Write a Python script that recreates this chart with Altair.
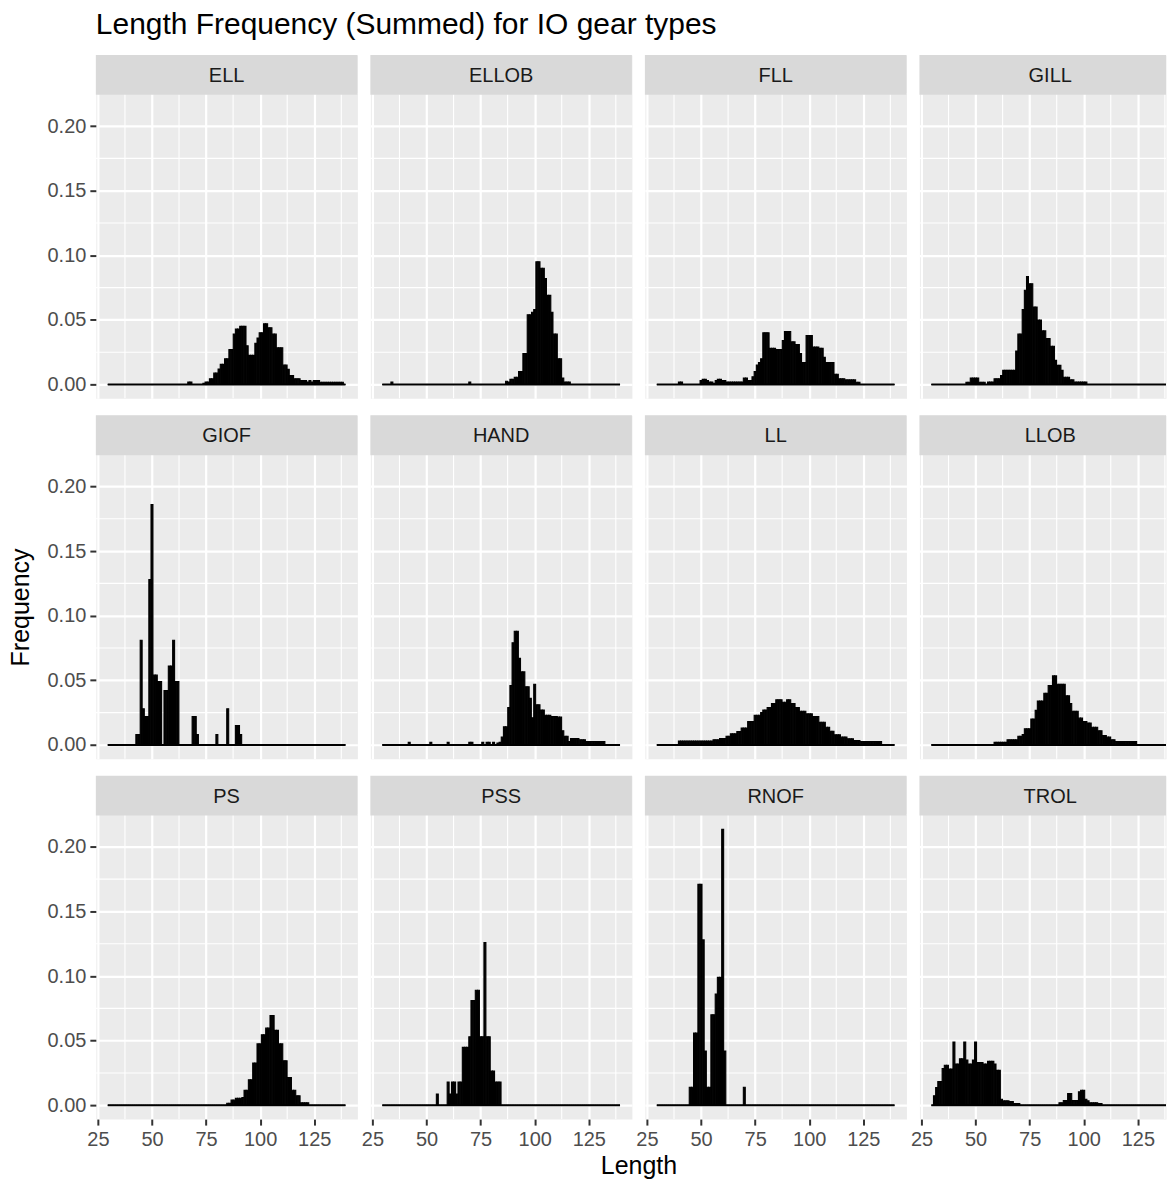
import altair as alt
import pandas as pd

TITLE = "Length Frequency (Summed) for IO gear types"
X_TITLE = "Length"
Y_TITLE = "Frequency"
GEARS = ["ELL", "ELLOB", "FLL", "GILL", "GIOF", "HAND", "LL", "LLOB",
         "PS", "PSS", "RNOF", "TROL"]
BIN_MIN, BIN_MAX = 30, 139
X_TICKS = [25, 50, 75, 100, 125]
X_MINOR = [37.5, 62.5, 87.5, 112.5, 137.5]
Y_TICKS = [0.0, 0.05, 0.10, 0.15, 0.20]
Y_MINOR = [0.025, 0.075, 0.125, 0.175, 0.225]

# (first length, [frequency per 1-cm length class ...])
ELL = [(66, [0, .002, .002, 0, 0, 0, 0, 0, .001, .002,
             .002, .0044, .0044, .0088, .0088, .012, .0156, .0156, .020, .020,
             .027, .027, .039, .043, .043, .045, .045, .045, .030, .0226,
             .0226, .0226, .032, .036, .040, .040, .047, .047, .044, .044,
             .039, .039, .0285, .0285, .0285, .015, .015, .0117, .007, .007,
             .0044, .0044, .0044, .003, .003, .003, .002, .003, .002, .003,
             .003, .003, .0018, .0018, .0018, .0018, .0018, .0018, .0018, .0018,
             .0018, .0018, .0018])]
ELLOB = [(34, [.002]), (70, [.002]),
         (87, [.0026, .002, .004, .004, .0057, .0057, .010, .010, .024, .024,
               .054, .054, .056, .058, .095, .095, .090, .090, .082, .069,
               .069, .056, .039, .039, .020, .020, .005, .002, .002, .002])]
FLL = [(40, [.002, .002]),
       (50, [.003, .004, .004, .003, .002, .002, .001, .003, .004, .004,
             .003, .003, .002, .002, .002, .002, .002, .002, .002, .002,
             .005, .005, .003, .003, .006, .010, .015, .017, .020, .040,
             .040, .040, .028, .028, .028, .027, .027, .027, .034, .041,
             .041, .041, .033, .033, .031, .031, .024, .017, .017, .038,
             .038, .038, .029, .029, .029, .028, .028, .021, .017, .017,
             .017, .017, .008, .008, .0045, .0045, .0045, .0036, .0036, .0036,
             .0036, .0036, .0018, .0018])]
GILL = [(46, [.0018, .0018, .005, .005, .005, .005, .0018, .0018, .0018, 0,
              .002, .002, .002, .0044, .0044, .0044, .007, .011, .011, .011,
              .011, .011, .011, .026, .039, .039, .058, .073, .0835, .078,
              .078, .060, .060, .050, .050, .0415, .0415, .0355, .0355, .0296,
              .0296, .0187, .0148, .0148, .011, .0057, .0057, .0057, .0036, .0036,
              .002, .002, .002, .002, .002, .002])]
GIOF = [(43, [.008, .008, .081, .028, .022, .022, .128, .186, .054, .054,
              .049, .049, 0, .042, .042, .061, .061, .081, .049, .049]),
        (69, [.022, .022, .008]), (80, [.008]), (85, [.028]),
        (89, [.015, .015, .008])]
HAND = [(42, [.002]), (52, [.002]), (60, [.002]), (70, [.002, .002]),
        (76, [.002, 0, .002, .002, 0, .002, 0, .0015, .002, .006,
              .014, .014, .029, .046, .079, .088, .088, .067, .0565, .0565,
              .045, .045, .036, .021, .047, .031, .031, .027, .027, .023,
              .023, .023, .022, .022, .022, .0215, .0215, .011, .0067, .0067,
              .0026, .005, .005, .005, .005, .004, .004, .004, .0026, .0026,
              .0026, .0026, .0026, .0026, .0026, .0026, .0026])]
LL = [(40, [.003, .003, .003, .003, .003, .003, .003, .003, .003, .003,
            .003, .003, .003, .003, .003, .003, .004, .004, .004, .005,
            .005, .005, .0067, .0067, .0086, .0086, .0086, .0104, .0104, .013,
            .013, .013, .018, .018, .018, .023, .023, .023, .025, .027,
            .027, .029, .029, .032, .032, .035, .035, .035, .033, .033,
            .035, .035, .032, .032, .029, .029, .026, .026, .026, .024,
            .024, .024, .022, .022, .022, .0176, .0176, .0176, .0137, .0137,
            .0106, .0106, .0078, .0078, .0078, .006, .006, .006, .0047, .0047,
            .0047, .0034, .0034, .0034, .0026, .0026, .0026, .0026, .0026, .0026,
            .0026, .0026, .0026, .0026])]
LLOB = [(59, [.002, .002, .002, .002, .002, .002, .004, .004, .004, .004,
              .004, .0067, .0067, .008, .0125, .0125, .0125, .020, .020, .0267,
              .034, .034, .034, .040, .040, .046, .046, .0534, .0534, .047,
              .047, .047, .047, .038, .038, .032, .026, .026, .026, .0207,
              .0207, .018, .018, .0169, .0169, .0137, .0137, .0137, .011, .011,
              .0073, .0073, .006, .006, .004, .004, .0026, .0026, .0026, .0026,
              .0026, .0026, .0026, .0026, .0026, .0026])]
PS = [(85, [.0016, .0016, .004, .004, .0054, .0054, .0054, .006, .0117, .0117,
            .0197, .0197, .0327, .0327, .0475, .0475, .0545, .0545, .0597, .0597,
            .0695, .0695, .058, .058, .0475, .0475, .0345, .0345, .0215, .0215,
            .0117, .0117, .0073, .0073, .002, .002, .002, .002])]
PSS = [(55, [.0087]),
       (60, [.018, .0087, .018, .018, .0087, .018, .018, .0448, .0448, .0448,
             .053, .081, .081, .089, .089, .053, .053, .126, .053, .053,
             .0266, .0266, .018, .018, .018])]
RNOF = [(45, [.014, .014, .056, .056, .171, .171, .128, .042, .014, .014,
              .070, .070, .086, .099, .099, .2135, .042]),
        (70, [.014])]
TROL = [(31, [.0073, .0137, .0184, .0184, .0285, .031, .031, .028, .028, .049,
              .032, .032, .036, .036, .049, .035, .032, .032, .035, .049,
              .033, .033, .033, .032, .032, .034, .034, .034, .032, .027,
              .027, .0047, .0034, .0034, .0034, .0029, .0029, .0013, .0013, .0013]),
        (89, [.002, .002, .0036, .0036, .009, .009, .0036, .0036, .0036, .0104,
              .0117, .0117, .0047, .0034, .002, .002, .002, .002, .0013, .0013])]

SEGMENTS = {"ELL": ELL, "ELLOB": ELLOB, "FLL": FLL, "GILL": GILL,
            "GIOF": GIOF, "HAND": HAND, "LL": LL, "LLOB": LLOB,
            "PS": PS, "PSS": PSS, "RNOF": RNOF, "TROL": TROL}

rows = []
for g in GEARS:
    freq = {L: 0.0 for L in range(BIN_MIN, BIN_MAX + 1)}
    for start, vals in SEGMENTS[g]:
        for i, v in enumerate(vals):
            freq[start + i] = v
    for L, v in freq.items():
        rows.append({"gear": g, "x0": L - 0.45, "x1": L + 0.45,
                     "freq": v, "base": 0.0})
df = pd.DataFrame(rows)

FONT = "Liberation Sans"
PANEL_W, PLOT_H, STRIP_H = 262, 304, 40
LAST_W = 247          # right-hand column is cut by the page edge, as in the original
COL_GAP, ROW_GAP = 13, 13

ymax = df["freq"].max()
Y_LO = -0.05 * ymax
PLOT_TOP = 1.05 * ymax
Y_TOP = PLOT_TOP + STRIP_H * (PLOT_TOP - Y_LO) / PLOT_H
xlo, xhi = df["x0"].min(), df["x1"].max()
span = xhi - xlo
X_DOM = [xlo - 0.05 * span, xhi + 0.05 * span]
X_DOM_LAST = [X_DOM[0], X_DOM[0] + LAST_W * (X_DOM[1] - X_DOM[0]) / PANEL_W]

ys = alt.Scale(domain=[Y_LO, Y_TOP], nice=False, zero=False)

minor_x_df = pd.DataFrame({"v": X_MINOR})
minor_y_df = pd.DataFrame({"v": Y_MINOR})

GRID_W = 4 * PANEL_W + 3 * COL_GAP
PANEL_H = PLOT_H + STRIP_H
ROW_PITCH = PANEL_H + ROW_GAP + 3.5


def panel(g, r, c):
    d = df[df["gear"] == g]
    left = c == 0
    bottom = r == 2
    last = c == 3
    w = LAST_W if last else PANEL_W
    xs = alt.Scale(domain=X_DOM_LAST if last else X_DOM, nice=False, zero=False)
    xkw = dict(values=X_TICKS, grid=True, labels=bottom, ticks=bottom,
               domain=False, format="d", title=None)
    if bottom and c == 1:
        xkw.update(title=X_TITLE, titleX=GRID_W / 2 - (PANEL_W + COL_GAP),
                   titleAlign="center", titlePadding=4)
    ykw = dict(values=Y_TICKS, grid=True, labels=left, ticks=left,
               domain=False, format=".2f", title=None)
    if left:
        # every left panel reserves the same room for the y title so the rows
        # line up; the text itself is shown once, centred over all plot areas
        if r == 1:
            centre = (STRIP_H + 2 * ROW_PITCH + PANEL_H) / 2 - ROW_PITCH
            ykw.update(title=Y_TITLE, titleY=centre, titleOpacity=1)
        else:
            ykw.update(title=" ", titleY=PANEL_H / 2, titleOpacity=0)
        ykw.update(titleX=-75.5, titleAngle=270, titleBaseline="middle",
                   titleAlign="center")
    xaxis = alt.Axis(**xkw)
    yaxis = alt.Axis(**ykw)

    minor_x = alt.Chart(minor_x_df).mark_rule(color="white", strokeWidth=1.1).encode(
        x=alt.X("v:Q", scale=xs, axis=xaxis))
    minor_y = alt.Chart(minor_y_df).mark_rule(color="white", strokeWidth=1.1).encode(
        y=alt.Y("v:Q", scale=ys, axis=yaxis))
    bars = alt.Chart(d).mark_rect(color="black", stroke="black", strokeWidth=1.1,
                                  clip=True).encode(
        x=alt.X("x0:Q", scale=xs, axis=xaxis), x2="x1:Q",
        y=alt.Y("freq:Q", scale=ys, axis=yaxis), y2="base:Q")
    baseline = alt.Chart(d).mark_rule(color="black", strokeWidth=2, clip=True).encode(
        x=alt.X("min(x0):Q", scale=xs, axis=xaxis), x2="max(x1):Q",
        y=alt.Y("min(base):Q", scale=ys, axis=yaxis))
    lab = pd.DataFrame({"gear": [g]})
    strip = alt.Chart(lab).mark_rect(color="#D9D9D9").encode(
        x=alt.value(0), x2=alt.value(w), y=alt.value(0), y2=alt.value(STRIP_H))
    strip_text = alt.Chart(lab).mark_text(
        font=FONT, fontSize=20, color="#1A1A1A", baseline="middle", align="center"
    ).encode(x=alt.value(PANEL_W / 2), y=alt.value(STRIP_H / 2 + 1), text="gear:N")
    return alt.layer(minor_x, minor_y, bars, baseline, strip, strip_text).properties(
        width=w, height=PANEL_H)


grid_rows = []
for r in range(3):
    grid_rows.append(alt.hconcat(*[panel(GEARS[r * 4 + c], r, c) for c in range(4)],
                                 spacing=COL_GAP, bounds="flush"))

chart = alt.vconcat(*grid_rows, spacing=ROW_GAP).properties(
    title=alt.TitleParams(TITLE, anchor="start", frame="group", fontSize=30,
                          font=FONT, fontWeight="normal", color="black", offset=14),
    padding=0,
).configure_view(
    fill="#EBEBEB", stroke="transparent"
).configure_axis(
    labelFont=FONT, labelFontSize=20, labelColor="#4D4D4D",
    tickColor="#333333", tickSize=6, tickWidth=2, labelPadding=4,
    gridColor="white", gridWidth=2.2,
    titleFont=FONT, titleFontSize=25, titleFontWeight="normal", titleColor="black",
)

chart.save("out.html", embed_options={"renderer": "svg", "actions": False})
